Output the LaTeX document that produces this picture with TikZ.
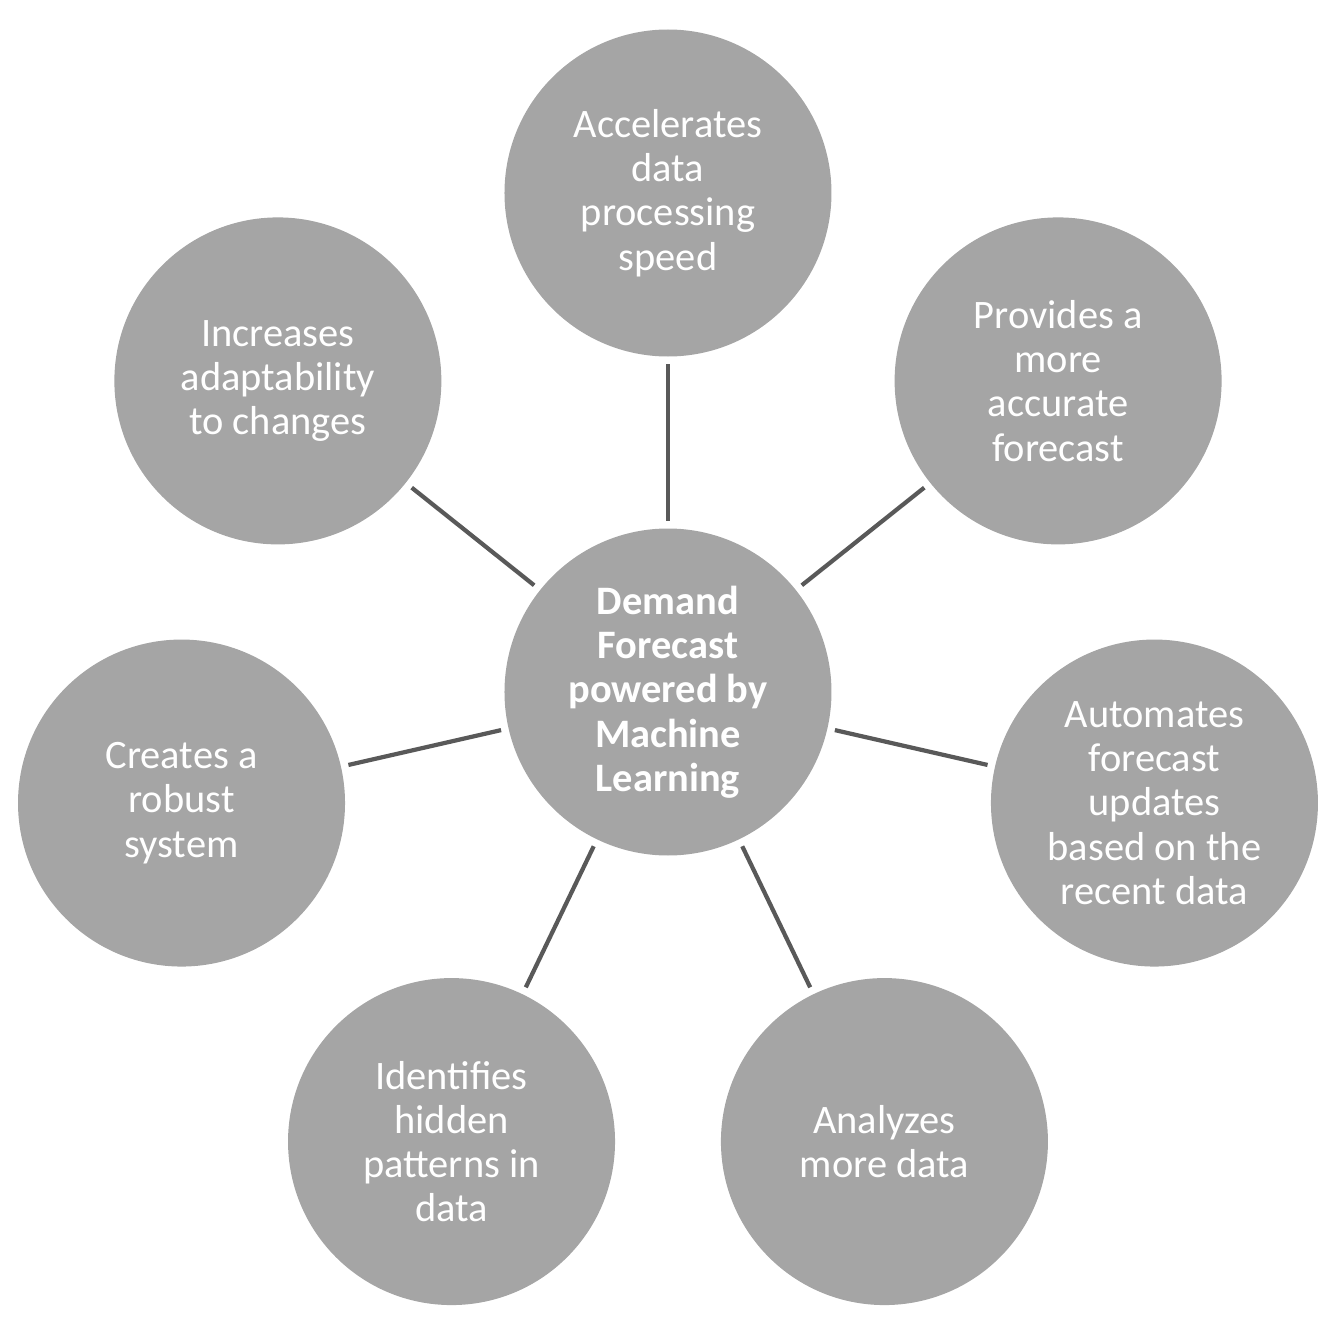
\documentclass[tikz,border=0pt]{standalone}
\usepackage{fontspec}
\setmainfont{Carlito}
\usepackage{xcolor}
\usepackage{tikz}
\definecolor{bubblegray}{HTML}{A5A5A5}
\definecolor{spokegray}{HTML}{595959}

\begin{document}
\begin{tikzpicture}[font=\fontsize{11.5}{12.6}\selectfont,
  bubble/.style={circle,fill=bubblegray,text=white,minimum size=3.27cm,
    inner sep=0pt,align=center},
  spoke/.style={spokegray,line width=1.2pt,shorten <=0.07cm,shorten >=0.07cm}]
  \useasboundingbox (-6.68,-6.32) rectangle (6.76,6.92);
  \node[bubble,font=\fontsize{11.5}{12.6}\selectfont\bfseries] (hub) at (0,0)
    {Demand\\Forecast\\powered by\\Machine\\Learning};
  \node[bubble] (speed) at (90:4.99) {Accelerates\\data\\processing\\speed};
  \node[bubble] (accurate) at (38.57:4.99) {Provides a\\more\\accurate\\forecast};
  \node[bubble] (updates) at (-12.86:4.99) {Automates\\forecast\\updates\\based on the\\recent data};
  \node[bubble] (moredata) at (-64.29:4.99) {Analyzes\\more data};
  \node[bubble] (patterns) at (-115.71:4.99) {Identifies\\hidden\\patterns in\\data};
  \node[bubble] (robust) at (-167.14:4.99) {Creates a\\robust\\system};
  \node[bubble] (adapt) at (141.43:4.99) {Increases\\adaptability\\to changes};
  \draw[spoke] (hub) -- (speed);
  \draw[spoke] (hub) -- (accurate);
  \draw[spoke] (hub) -- (updates);
  \draw[spoke] (hub) -- (moredata);
  \draw[spoke] (hub) -- (patterns);
  \draw[spoke] (hub) -- (robust);
  \draw[spoke] (hub) -- (adapt);
\end{tikzpicture}
\end{document}
